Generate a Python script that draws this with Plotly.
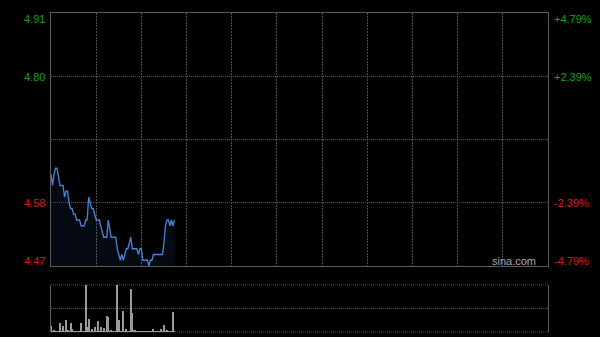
import plotly.graph_objects as go

# minutes since 09:30 (HK session: 330 trading minutes)
minutes = list(range(83))
price = [4.63, 4.61, 4.63, 4.64, 4.64, 4.62, 4.61, 4.61, 4.61, 4.59,
         4.60, 4.60, 4.58, 4.57, 4.57, 4.56, 4.56, 4.55, 4.55, 4.55,
         4.54, 4.54, 4.54, 4.55, 4.55, 4.59, 4.58, 4.57, 4.57, 4.56,
         4.55, 4.55, 4.55, 4.54, 4.53, 4.52, 4.52, 4.52, 4.55, 4.53,
         4.52, 4.52, 4.52, 4.52, 4.50, 4.49, 4.48, 4.49, 4.48, 4.49,
         4.50, 4.50, 4.51, 4.52, 4.50, 4.50, 4.50, 4.50, 4.49, 4.50,
         4.50, 4.48, 4.48, 4.48, 4.48, 4.47, 4.48, 4.48, 4.49, 4.49,
         4.49, 4.49, 4.49, 4.49, 4.49, 4.51, 4.54, 4.55, 4.55, 4.54,
         4.55, 4.54, 4.55]
volume = [6, 1, 2.5, 1, 1, 1, 9, 1, 6, 1,
          12, 2, 1, 9, 3, 1, 1, 1, 1, 1,
          9, 1, 1, 47, 5, 13, 1, 3, 1, 5,
          1, 11, 1, 5, 1, 4, 1, 16, 15, 1,
          2, 1, 1, 1, 47, 12, 1, 1, 21, 1,
          3, 1, 1, 43, 19, 2, 2, 1, 1, 1,
          1, 1, 1, 1, 1, 1, 1, 1, 3, 1,
          1, 1, 1, 3, 1, 7, 1, 2, 1, 1,
          1, 20, 1]
left_labels = ["4.91", "4.80", "4.58", "4.47"]
right_labels = ["+4.79%", "+2.39%", "-2.39%", "-4.79%"]
label_colors = ["#1f9e1f", "#1f9e1f", "#d81e1e", "#d81e1e"]
label_y_px = [19, 77, 203, 261]

W, H = 600, 337
x0, x1 = 51, 548
def py(p):
    return 1 - p / H

fig = go.Figure()
fig.add_trace(go.Scatter(x=minutes, y=price, mode="lines",
                         line=dict(color="#4a82d8", width=1.3),
                         fill="tozeroy", fillcolor="rgba(40,80,150,0.13)",
                         xaxis="x", yaxis="y", hoverinfo="skip"))
fig.add_trace(go.Bar(x=minutes, y=volume, width=0.6,
                     marker=dict(color="#9a9a9a", line=dict(width=0)),
                     xaxis="x2", yaxis="y2", hoverinfo="skip"))

grid = "#4f4f4f"
border = "#5a5a5a"
fig.update_layout(
    width=W, height=H, margin=dict(l=0, r=0, t=0, b=0),
    paper_bgcolor="black", plot_bgcolor="black", showlegend=False,
    bargap=0,
    xaxis=dict(domain=[x0 / W, x1 / W], range=[0, 330],
               tickvals=list(range(30, 330, 30)), showticklabels=False,
               showgrid=True, gridcolor=grid, griddash="2px,1px", gridwidth=1,
               showline=True, linecolor=border, mirror=True, linewidth=1,
               zeroline=False, ticks=""),
    yaxis=dict(domain=[py(266), py(13)], range=[4.47, 4.91],
               tickvals=[4.58, 4.69, 4.80], showticklabels=False,
               showgrid=True, gridcolor=grid, griddash="1px,1px", gridwidth=1,
               showline=True, linecolor=border, mirror=True, linewidth=1,
               zeroline=False, ticks=""),
    xaxis2=dict(domain=[x0 / W, x1 / W], range=[0, 330], anchor="y2",
                showticklabels=False, showgrid=False, showline=False,
                zeroline=False, ticks=""),
    yaxis2=dict(domain=[py(332), py(285)], range=[0, 47], anchor="x2",
                tickvals=[23.5], showticklabels=False,
                showgrid=True, gridcolor=grid, griddash="1px,1px", gridwidth=1,
                showline=True, linecolor=border, mirror=True, linewidth=1,
                zeroline=False, ticks=""),
    font=dict(family="Liberation Sans, Arial, sans-serif", size=11),
)

shapes = []
for yv in (0, 1):
    shapes.append(dict(type="line", xref="x2 domain", yref="y2 domain",
                       x0=0, x1=1, y0=yv, y1=yv,
                       line=dict(color=grid, width=1, dash="1px,1px"),
                       layer="below"))
fig.update_layout(shapes=shapes)

annotations = []
for lab, rlab, col, ypx in zip(left_labels, right_labels, label_colors, label_y_px):
    annotations.append(dict(x=47 / W, y=py(ypx), xref="paper", yref="paper",
                            text=lab, showarrow=False, xanchor="right",
                            yanchor="middle", font=dict(color=col, size=11)))
    annotations.append(dict(x=552 / W, y=py(ypx), xref="paper", yref="paper",
                            text=rlab, showarrow=False, xanchor="left",
                            yanchor="middle", font=dict(color=col, size=11)))
annotations.append(dict(x=538 / W, y=py(261), xref="paper", yref="paper",
                        text="sina.com", showarrow=False, xanchor="right",
                        yanchor="middle", font=dict(color="#aaaaaa", size=11)))
fig.update_layout(annotations=annotations)

fig.write_html("out.html")
